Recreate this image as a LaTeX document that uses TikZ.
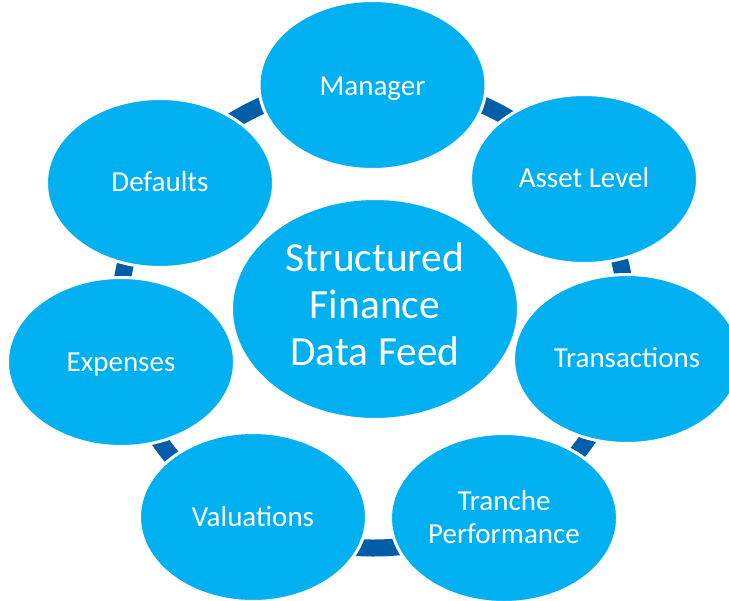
\documentclass[tikz,border=0pt]{standalone}
\usepackage{fontspec}
\setmainfont{Carlito}
\usetikzlibrary{shapes.geometric}
\definecolor{lightblu}{RGB}{0,176,240}
\definecolor{ringblu}{RGB}{0,93,168}
\tikzset{
  bubble/.style={ellipse, fill=lightblu, draw=white, line width=3bp, inner sep=0pt,
    minimum width=227bp, minimum height=169bp},
  hub/.style={ellipse, fill=lightblu, draw=white, line width=3bp, inner sep=0pt,
    minimum width=287bp, minimum height=221bp},
  lbl/.style={text=white, anchor=base, align=center, inner sep=0pt,
    font=\fontsize{29.1}{33.1}\selectfont},
  hublbl/.style={text=white, anchor=base, align=center, inner sep=0pt,
    font=\fontsize{41.6}{47}\selectfont},
  ringline/.style={draw=ringblu, line width=17bp}
}
\begin{document}
\begin{tikzpicture}[x=1bp,y=-1bp]
\useasboundingbox (0,0) rectangle (729,601);
\clip (0,0) rectangle (729,601);
\coordinate (rc) at (373,315);
\draw[ringline] (rc) ellipse [x radius=253.6bp, y radius=233bp];
\node[bubble] (manager) at (372.5,85) {};
\node[bubble] (asset) at (584,179) {};
\node[bubble] (trans) at (627,359) {};
\node[bubble] (tranche) at (504,518) {};
\node[bubble] (valu) at (253,517) {};
\node[bubble] (exp) at (121,362) {};
\node[bubble] (def) at (160,183) {};
\node[hub] (hub) at (375,309) {};
\node[lbl] (tmanager) at (372.5,96) {Manager};
\node[lbl] (tasset) at (584,188) {Asset Level};
\node[lbl] (ttrans) at (627,367) {Transactions};
\node[lbl] (ttranche) at (504,543) {Tranche\\Performance};
\node[lbl] (tvalu) at (253,526) {Valuations};
\node[lbl] (texp) at (121,371) {Expenses};
\node[lbl] (tdef) at (160,192) {Defaults};
\node[hublbl] (thub) at (375,365) {Structured\\Finance\\Data Feed};
\end{tikzpicture}
\end{document}
